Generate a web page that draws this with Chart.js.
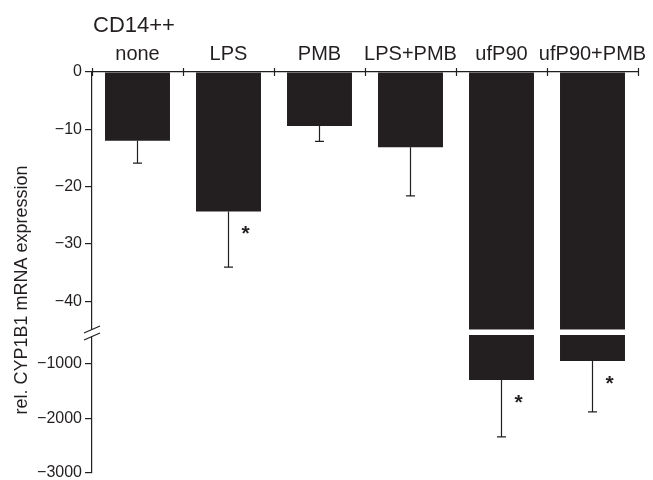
<!DOCTYPE html>
<html>
<head>
<meta charset="utf-8">
<script src="https://cdn.jsdelivr.net/npm/chart.js@4/dist/chart.umd.min.js"></script>
<style>
  body { margin: 0; background: #fff; }
</style>
</head>
<body>
<canvas id="cypChart" width="653" height="480"></canvas>
<script>
const categories = ["none", "LPS", "PMB", "LPS+PMB", "ufP90", "ufP90+PMB"];
const meanValues = [-12.0, -24.3, -9.4, -13.1, -1305, -958];
const sdValues = [3.9, 9.7, 2.7, 8.5, 1035, 927];
const significant = [false, true, false, false, true, true];
const topTicks = [0, -10, -20, -30, -40];
const bottomTicks = [-1000, -2000, -3000];
const topMin = -45.5;
const bottomMax = -449;
const bottomMin = -3000;

const INK = "#231f20";
const FONT = "'Liberation Sans', Arial, Helvetica, sans-serif";
Chart.defaults.font.family = FONT;
Chart.defaults.color = INK;

const topData = meanValues.map((v) => Math.max(v, topMin));
const bottomData = meanValues.map((v) => (v < topMin ? v : null));

const fmt = (v) => (v < 0 ? "\u2212" + Math.abs(v) : String(v));

const extras = {
  id: "extras",
  afterDatasetsDraw(chart) {
    const { ctx, chartArea, scales } = chart;
    const b = scales.yTop.bottom;

    // white gap through the broken bars
    ctx.save();
    ctx.fillStyle = "#fff";
    ctx.fillRect(chartArea.left + 1, b - 3.5, chartArea.right - chartArea.left, 5.5);

    // error bars + asterisks
    ctx.strokeStyle = INK;
    ctx.fillStyle = INK;
    ctx.lineWidth = 1.2;
    meanValues.forEach((v, i) => {
      const low = bottomData[i] !== null;
      const meta = chart.getDatasetMeta(low ? 1 : 0);
      const scale = low ? scales.yBot : scales.yTop;
      const bar = meta.data[i];
      const y1 = scale.getPixelForValue(v - sdValues[i]);
      ctx.beginPath();
      ctx.moveTo(bar.x, bar.y);
      ctx.lineTo(bar.x, y1);
      ctx.moveTo(bar.x - 4.5, y1);
      ctx.lineTo(bar.x + 4.5, y1);
      ctx.stroke();
      if (significant[i]) {
        ctx.font = "bold 21px " + FONT;
        ctx.textAlign = "center";
        ctx.textBaseline = "alphabetic";
        ctx.fillText("*", bar.x + 17, bar.y + 29);
      }
    });
    ctx.restore();
  },
  afterDraw(chart) {
    const { ctx, chartArea, scales } = chart;
    const x = scales.x;
    const top = chartArea.top;
    const b = scales.yTop.bottom;
    const step = (x.right - x.left) / categories.length;

    ctx.save();
    ctx.strokeStyle = INK;
    ctx.lineWidth = 1.2;
    ctx.beginPath();
    for (let i = 0; i <= categories.length; i++) {
      const px = Math.round(x.left + i * step) + 0.5;
      ctx.moveTo(px, top - 4);
      ctx.lineTo(px, top + 4);
    }
    ctx.stroke();

    // axis break
    const ax = chartArea.left;
    ctx.fillStyle = "#fff";
    ctx.fillRect(ax - 2, b - 3, 4, 6.5);
    ctx.beginPath();
    ctx.moveTo(ax - 8, b);
    ctx.lineTo(ax + 8, b - 7);
    ctx.moveTo(ax - 8, b + 7);
    ctx.lineTo(ax + 8, b);
    ctx.stroke();

    ctx.fillStyle = INK;
    ctx.textAlign = "left";
    ctx.textBaseline = "alphabetic";
    ctx.font = "22px " + FONT;
    ctx.fillText("CD14++", 93, 32);

    ctx.translate(27, 290);
    ctx.rotate(-Math.PI / 2);
    ctx.textAlign = "center";
    ctx.font = "18px " + FONT;
    ctx.fillText("rel. CYP1B1 mRNA expression", 0, 0);
    ctx.restore();
  },
};

const yAxis = (min, max, ticks, weight, stackWeight) => ({
  type: "linear",
  position: "left",
  stack: "y",
  stackWeight: stackWeight,
  weight: weight,
  min: min,
  max: max,
  afterBuildTicks: (s) => {
    s.ticks = ticks.map((v) => ({ value: v }));
  },
  afterFit: (s) => {
    s.width = 92;
    s.paddingTop = 0;
    s.paddingBottom = 0;
  },
  grid: {
    drawOnChartArea: false,
    drawTicks: true,
    tickLength: 7,
    color: INK,
    lineWidth: 1.2,
  },
  border: { display: true, color: INK, width: 1.2 },
  ticks: {
    font: { size: 16 },
    color: INK,
    padding: 3,
    callback: (v) => fmt(v),
  },
});

new Chart(document.getElementById("cypChart"), {
  type: "bar",
  data: {
    labels: categories,
    datasets: [
      {
        data: topData,
        yAxisID: "yTop",
        backgroundColor: INK,
        borderWidth: 0,
        grouped: false,
        barPercentage: 0.714,
        categoryPercentage: 1,
      },
      {
        data: bottomData,
        yAxisID: "yBot",
        base: bottomMax,
        backgroundColor: INK,
        borderWidth: 0,
        grouped: false,
        barPercentage: 0.714,
        categoryPercentage: 1,
      },
    ],
  },
  options: {
    responsive: false,
    animation: false,
    layout: { padding: { top: 0, left: 0, right: 15, bottom: 7 } },
    plugins: {
      legend: { display: false },
      tooltip: { enabled: false },
    },
    scales: {
      x: {
        position: "top",
        grid: { display: false, offset: true, drawTicks: false, tickLength: 0 },
        border: { display: true, color: INK, width: 1.2 },
        ticks: {
          font: { size: 20 },
          color: INK,
          padding: 6,
          maxRotation: 0,
          minRotation: 0,
          autoSkip: false,
        },
        afterFit: (s) => {
          s.height = 72;
          s.paddingLeft = 0;
          s.paddingRight = 0;
        },
      },
      yTop: yAxis(topMin, 0, topTicks, 2, 261),
      yBot: yAxis(bottomMin, bottomMax, bottomTicks, 1, 140),
    },
  },
  plugins: [extras],
});
</script>
</body>
</html>
